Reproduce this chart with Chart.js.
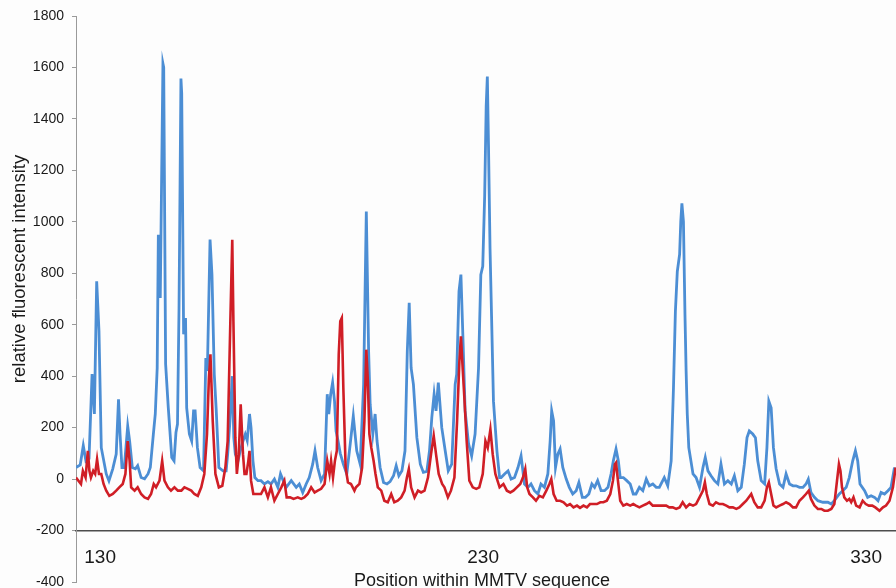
<!DOCTYPE html>
<html>
<head>
<meta charset="utf-8">
<script src="https://cdn.jsdelivr.net/npm/chart.js@4/dist/chart.umd.min.js"></script>
<style>
  html, body { margin: 0; padding: 0; background: #fdfdfd; }
  #wrap { width: 896px; height: 588px; }
</style>
</head>
<body>
<div id="wrap"><canvas id="traceChart" width="896" height="588"></canvas></div>
<script>
// Position along the sequence (x) and intensity (y)
const xTickLabels = [130, 230, 330];
const yTickStep = 200;

const bluePos = [
  123.7, 124.8, 125.6, 126.3, 127.1, 127.9, 128.5, 129.1, 129.7, 130.3,
  131.6, 132.3, 133.3, 134.2, 134.8, 135.2, 135.7, 136.3, 137.2, 137.7,
  138.4, 139.2, 139.8, 140.7, 141.6, 142.5, 143.1, 143.9, 144.4, 144.9,
  145.2, 145.7, 146.4, 146.6, 147.1, 147.8, 148.7, 149.3, 149.8, 150.2,
  150.6, 151.1, 151.3, 151.8, 152.3, 152.6, 153.3, 153.9, 154.4, 154.8,
  155.4, 156.1, 157.0, 157.6, 158.0, 158.7, 159.2, 159.8, 160.3, 161.0,
  162.1, 162.9, 163.3, 163.9, 164.5, 164.9, 165.3, 166.0, 166.6, 167.3,
  167.9, 168.4, 169.0, 169.4, 169.9, 170.4, 171.2, 172.0, 172.9, 173.8,
  174.6, 175.5, 176.4, 177.1, 177.8, 178.6, 179.9, 181.2, 182.0, 182.9,
  183.8, 184.6, 185.5, 186.1, 186.8, 187.7, 188.6, 189.3, 189.7, 190.2,
  190.7, 191.2, 191.6, 192.1, 192.7, 193.5, 194.4, 195.3, 196.1, 197.0,
  197.9, 198.8, 199.5, 200.1, 200.5, 201.2, 201.8, 202.3, 203.1, 204.0,
  204.9, 205.7, 206.6, 207.3, 208.0, 208.8, 209.6, 210.2, 210.7, 211.2,
  211.8, 212.7, 213.6, 214.4, 215.3, 216.0, 216.6, 217.2, 217.7, 218.3,
  219.2, 220.1, 220.9, 221.8, 222.7, 223.1, 223.7, 224.2, 224.7, 225.3,
  226.2, 227.0, 227.9, 228.8, 229.4, 229.9, 230.4, 230.8, 231.1, 231.4,
  231.8, 232.7, 233.6, 234.3, 234.7, 235.6, 236.5, 237.3, 238.2, 239.1,
  239.9, 240.8, 241.7, 242.5, 243.4, 244.3, 245.1, 246.0, 246.9, 247.5,
  247.9, 248.4, 248.9, 249.5, 250.1, 250.8, 251.7, 252.5, 253.4, 254.3,
  255.0, 255.9, 256.7, 257.6, 258.4, 259.1, 259.9, 260.8, 261.7, 262.6,
  263.4, 264.0, 264.7, 265.3, 265.8, 266.6, 267.5, 268.4, 269.2, 269.9,
  270.8, 271.7, 272.6, 273.4, 274.3, 275.2, 276.0, 277.3, 278.2, 279.1,
  279.7, 280.2, 280.7, 281.3, 281.6, 281.9, 282.3, 282.7, 283.0, 283.3,
  283.7, 284.8, 285.6, 286.5, 287.4, 288.0, 288.7, 289.5, 290.4, 291.3,
  292.1, 293.0, 293.9, 294.8, 295.6, 296.5, 297.4, 298.2, 298.9, 299.5,
  300.4, 301.1, 301.7, 302.6, 303.5, 304.1, 304.6, 305.2, 305.8, 306.5,
  307.4, 308.3, 309.1, 310.0, 310.9, 311.7, 312.6, 313.5, 314.3, 314.9,
  315.6, 316.5, 317.4, 318.7, 320.0, 320.9, 321.7, 323.0, 323.9, 324.8,
  325.6, 326.5, 327.2, 327.8, 328.4, 329.6, 330.4, 331.3, 332.2, 333.1,
  333.9, 334.8, 335.7, 336.5, 337.4
];
const blueVals = [
  45, 55, 130, 70, 80, 408, 253, 769, 575, 122,
  20, -7, 40, 97, 310, 175, 45, 45, 206, 148,
  45, 40, 52, 6, 1, 20, 45, 175, 253, 432,
  950, 704, 1615, 1600, 447, 277, 84, 71, 181, 214,
  665, 1557, 1500, 563, 626, 277, 175, 148, 265, 265,
  122, 45, 32, 471, 420, 931, 795, 408, 272, 45,
  32, 32, 97, 226, 400, 161, 97, 71, 110, 148,
  174, 150, 253, 200, 71, 6, -6, -6, -19, -10,
  -19, 0, -32, 20, -6, -32, -6, -32, -19, -52,
  -19, 6, 58, 110, 45, -6, 20, 330, 253, 330,
  375, 303, 187, 150, 100, 58, 20, 137, 245, 110,
  58, 368, 1040, 497, 291, 175, 253, 148, 45, -13,
  -19, -10, 13, 52, 13, 32, 110, 497, 685, 432,
  368, 161, 58, 26, 30, 110, 239, 330, 265, 375,
  200, 110, 32, 58, 368, 408, 730, 795, 563, 265,
  137, 90, 175, 432, 795, 827, 1100, 1450, 1565, 1300,
  898, 303, 110, 6, 6, 20, 32, 0, 6, 45,
  90, -19, -32, -19, -45, -58, -19, -32, 20, 148,
  265, 226, 45, 97, 117, 45, 0, -32, -58, -45,
  -13, -71, -71, -58, -19, -32, -6, -45, -45, -32,
  20, 71, 117, 71, 6, 6, -6, -19, -58, -58,
  -32, -45, 0, -26, -19, -32, -32, 6, -26, 71,
  355, 652, 807, 873, 1000, 1072, 1001, 640, 420, 253,
  122, 20, 6, -32, 45, 84, 32, 13, -6, -19,
  58, -19, -6, -19, 13, -45, -32, 58, 161, 187,
  175, 161, 71, -6, -19, 122, 303, 277, 122, 40,
  -19, -32, 20, -19, -26, -26, -32, -32, -19, 0,
  -52, -71, -84, -90, -90, -97, -84, -58, -45, -32,
  6, 71, 110, 71, -19, -45, -71, -65, -71, -84,
  -52, -58, -45, -32, 45
];

const redPos = [
  123.7, 125.0, 125.5, 126.2, 126.8, 127.2, 127.6, 128.2, 128.7, 129.2,
  129.7, 130.3, 130.9, 131.6, 132.4, 133.3, 134.2, 135.0, 135.9, 136.6,
  137.2, 137.7, 138.1, 139.0, 139.8, 140.7, 141.6, 142.5, 143.3, 144.0,
  144.6, 145.5, 146.2, 146.8, 147.7, 148.5, 149.4, 150.3, 151.2, 152.0,
  152.9, 153.8, 154.6, 155.5, 156.4, 157.2, 157.9, 158.4, 158.8, 159.4,
  160.1, 161.0, 161.9, 162.7, 163.3, 164.0, 164.5, 164.8, 165.3, 165.7,
  166.2, 166.7, 167.3, 167.7, 168.2, 168.7, 169.0, 169.4, 170.0, 171.2,
  172.0, 172.9, 173.8, 174.6, 175.5, 176.4, 177.3, 178.1, 178.7, 179.6,
  180.5, 181.6, 182.5, 183.3, 184.2, 185.1, 186.0, 186.8, 187.7, 188.6,
  189.3, 189.9, 190.3, 190.8, 191.3, 191.8, 192.3, 192.7, 193.1, 193.5,
  194.1, 194.7, 195.5, 196.4, 196.8, 197.7, 198.4, 199.0, 199.5, 199.9,
  200.3, 200.8, 201.4, 201.9, 202.5, 203.4, 204.2, 205.1, 206.0, 206.8,
  207.7, 208.6, 209.5, 210.1, 210.6, 211.2, 212.1, 213.0, 213.8, 214.7,
  215.6, 216.4, 217.1, 217.7, 218.4, 219.3, 219.9, 220.8, 221.6, 222.5,
  223.2, 223.8, 224.2, 224.7, 225.1, 225.7, 226.4, 227.3, 228.2, 229.0,
  229.9, 230.6, 231.2, 231.9, 232.5, 233.2, 234.3, 235.3, 236.2, 237.1,
  237.9, 238.8, 239.7, 240.4, 241.0, 241.5, 242.1, 243.0, 243.8, 244.7,
  245.6, 246.5, 247.3, 247.8, 248.4, 249.2, 250.1, 251.0, 251.9, 252.7,
  253.6, 254.5, 255.3, 256.2, 257.1, 257.9, 258.8, 259.7, 260.6, 261.4,
  262.3, 263.2, 263.9, 264.4, 264.7, 265.2, 265.8, 266.6, 267.5, 268.4,
  269.2, 269.9, 270.8, 271.7, 272.6, 273.4, 274.3, 275.2, 276.0, 276.9,
  277.8, 278.6, 279.5, 280.4, 281.3, 282.1, 283.0, 283.9, 284.8, 285.6,
  286.5, 287.4, 287.9, 288.4, 289.1, 290.0, 290.8, 291.7, 292.6, 293.5,
  294.3, 295.2, 296.1, 296.9, 297.8, 298.7, 300.0, 300.8, 301.7, 302.6,
  303.5, 304.1, 304.6, 305.2, 305.8, 306.5, 307.4, 308.3, 309.1, 310.0,
  310.9, 311.7, 312.6, 313.5, 314.3, 315.0, 315.6, 316.5, 317.4, 318.3,
  319.1, 320.0, 320.9, 321.7, 322.4, 322.9, 323.3, 323.7, 324.3, 325.0,
  325.6, 326.1, 326.7, 327.4, 328.3, 329.1, 329.9, 330.7, 331.6, 332.4,
  333.5, 334.4, 335.2, 336.1, 337.0, 337.7
];
const redVals = [
  6, -19, 32, 6, 110, 32, 6, 32, 20, 77,
  20, 20, -19, -45, -65, -58, -45, -32, -19, 20,
  148, 71, -32, -45, -32, -58, -71, -77, -58, -19,
  -32, -6, 71, -6, -32, -45, -32, -45, -45, -32,
  -38, -45, -58, -65, -32, 20, 175, 394, 485, 226,
  20, -32, -26, 45, 148, 613, 930, 613, 161, 20,
  97, 291, 97, 20, 20, 71, 110, -6, -58, -58,
  -58, -32, -71, -32, -84, -58, -32, -6, -71, -71,
  -77, -71, -77, -71, -58, -32, -52, -45, -38, -19,
  71, 20, 71, 6, 71, 110, 485, 613, 626, 355,
  45, -13, -19, -45, -32, -19, 45, 226, 503, 381,
  175, 122, 71, 20, -32, -45, -84, -90, -58, -90,
  -84, -71, -45, 6, 39, -32, -71, -45, -52, -45,
  6, 97, 168, 97, 20, -19, -32, -71, -45, 6,
  226, 458, 555, 420, 316, 148, -6, -32, -38, -32,
  20, 148, 122, 193, 97, 20, -32, -19, -45, -52,
  -45, -32, -19, 6, 39, -32, -58, -71, -84, -65,
  -71, -45, -19, 0, -58, -84, -84, -90, -103, -97,
  -110, -103, -112, -103, -110, -97, -97, -97, -90, -90,
  -84, -58, -6, 58, 64, -6, -84, -103, -97, -103,
  -97, -103, -110, -103, -97, -90, -103, -103, -103, -103,
  -103, -110, -110, -116, -110, -90, -110, -97, -103, -97,
  -71, -45, -13, -58, -97, -103, -90, -97, -97, -103,
  -110, -110, -116, -110, -97, -84, -58, -90, -110, -110,
  -84, -32, -13, -58, -103, -110, -103, -97, -90, -97,
  -110, -110, -84, -71, -58, -45, -77, -103, -116, -116,
  -123, -123, -116, -97, -6, 58, 32, -32, -71, -84,
  -77, -90, -71, -103, -110, -84, -97, -103, -103, -110,
  -123, -110, -103, -84, -32, 45
];

const xMin = 123.7;
const xMax = 337.8;
const yMin = -400;
const yMax = 1800;
const baselineValue = -200;

function toPoints(xs, ys) {
    return xs.map(function(x, i) { return { x: x, y: ys[i] }; });
}

// axis titles: drawn by hand so they can sit where the figure has them
const axisTitles = {
    id: 'axisTitles',
    afterDraw: function(chart) {
        const ctx = chart.ctx;
        const area = chart.chartArea;
        ctx.save();
        ctx.fillStyle = '#1a1a1a';
        ctx.font = '18.5px "Liberation Sans", Arial, sans-serif';
        ctx.textAlign = 'center';
        ctx.textBaseline = 'middle';
        ctx.translate(20, area.top + (area.bottom - area.top) * 0.447);
        ctx.rotate(-Math.PI / 2);
        ctx.fillText('relative fluorescent intensity', 0, 0);
        ctx.restore();

        ctx.save();
        ctx.fillStyle = '#1a1a1a';
        ctx.font = '18px "Liberation Sans", Arial, sans-serif';
        ctx.textAlign = 'center';
        ctx.textBaseline = 'alphabetic';
        ctx.fillText('Position within MMTV sequence', (area.left + area.right) / 2 - 4, 586);
        ctx.restore();
    }
};

document.addEventListener('DOMContentLoaded', function() {
    const ctx = document.getElementById('traceChart').getContext('2d');
    const traceChart = new Chart(ctx, {
        type: 'line',
        data: {
            datasets: [{
                label: 'red',
                data: toPoints(redPos, redVals),
                borderColor: 'rgb(208, 30, 38)',
                borderWidth: 2.6,
                pointRadius: 0,
                tension: 0,
                fill: false
            }, {
                label: 'blue',
                data: toPoints(bluePos, blueVals),
                borderColor: 'rgb(76, 142, 212)',
                borderWidth: 2.8,
                pointRadius: 0,
                tension: 0,
                fill: false
            }]
        },
        options: {
            responsive: false,
            animation: false,
            layout: {
                padding: { top: 16, right: 0, bottom: 6, left: 0 }
            },
            plugins: {
                legend: { display: false },
                tooltip: { enabled: false }
            },
            scales: {
                x: {
                    type: 'linear',
                    min: xMin,
                    max: xMax,
                    position: { y: baselineValue },
                    afterBuildTicks: function(scale) {
                        scale.ticks = xTickLabels.map(function(v) { return { value: v }; });
                    },
                    // tick padding would otherwise be added to the side margins
                    afterFit: function(scale) {
                        scale.paddingLeft = 0;
                        scale.paddingRight = 0;
                    },
                    ticks: {
                        color: '#1a1a1a',
                        font: { family: '"Liberation Sans", Arial, sans-serif', size: 19 },
                        padding: 16,
                        maxRotation: 0,
                        callback: function(value) { return String(value); }
                    },
                    grid: {
                        drawOnChartArea: false,
                        drawTicks: false,
                        color: 'rgba(0,0,0,0)'
                    },
                    border: {
                        display: true,
                        color: '#4d4d4d',
                        width: 1.6
                    }
                },
                y: {
                    min: yMin,
                    max: yMax,
                    afterFit: function(scale) {
                        scale.width = 76;
                        scale.paddingTop = 0;
                        scale.paddingBottom = 0;
                    },
                    ticks: {
                        stepSize: yTickStep,
                        color: '#1a1a1a',
                        font: { family: '"Liberation Sans", Arial, sans-serif', size: 14, lineHeight: 1 },
                        padding: 8,
                        callback: function(value) { return String(value); }
                    },
                    grid: {
                        drawOnChartArea: false,
                        drawTicks: true,
                        tickLength: 4,
                        color: '#9a9a9a'
                    },
                    border: {
                        display: true,
                        color: '#9a9a9a',
                        width: 1
                    }
                }
            }
        },
        plugins: [axisTitles]
    });
});
</script>
</body>
</html>
